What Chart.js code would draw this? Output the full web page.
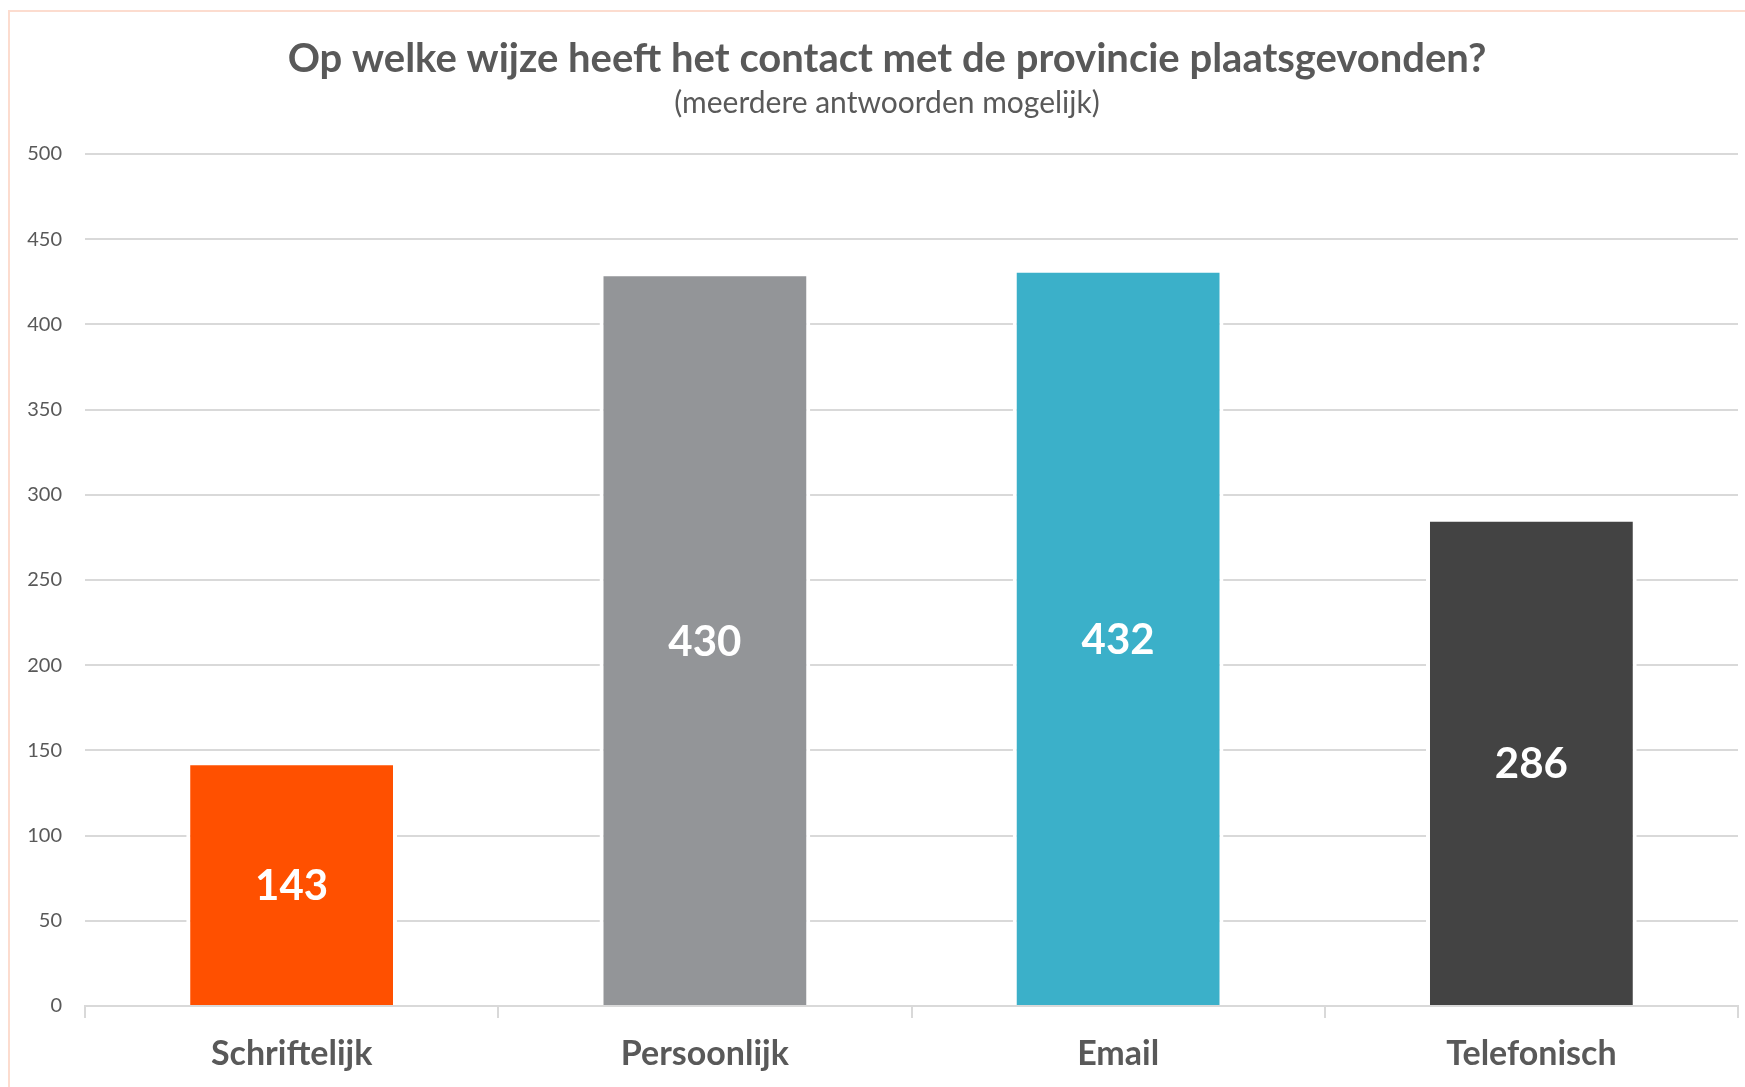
<!DOCTYPE html>
<html>
<head>
<meta charset="utf-8">
<script src="https://cdn.jsdelivr.net/npm/chart.js@4.4.0/dist/chart.umd.min.js"></script>
<style>
    html, body { margin: 0; padding: 0; background: #fff; }
    #wrap { position: relative; width: 1745px; height: 1087px; }
    #frame { position: absolute; left: 8px; top: 10px; right: -4px; bottom: -4px; border: 2px solid #FCDCCF; pointer-events: none; }
    canvas { position: absolute; left: 0; top: 0; }
</style>
</head>
<body>
<div id="wrap">
    <canvas id="chart" width="1745" height="1087"></canvas>
    <div id="frame"></div>
</div>
<script>
var categories = ['Schriftelijk', 'Persoonlijk', 'Email', 'Telefonisch'];
var values = [143, 430, 432, 286];
var barColors = ['#FF5000', '#939598', '#3BB0C9', '#434343'];
var yTicks = [0, 50, 100, 150, 200, 250, 300, 350, 400, 450, 500];

var FONT = 'Lato, "Open Sans", sans-serif';
var TEXT = '#595959';
var GRID = '#D9D9D9';

// draws the value in the middle of each bar
var barLabels = {
    id: 'barLabels',
    afterDatasetsDraw: function(chart) {
        var ctx = chart.ctx;
        var meta = chart.getDatasetMeta(0);
        ctx.save();
        ctx.fillStyle = '#FFFFFF';
        ctx.font = 'bold 42px ' + FONT;
        ctx.textAlign = 'center';
        ctx.textBaseline = 'middle';
        meta.data.forEach(function(bar, i) {
            var p = bar.getProps(['x', 'y', 'base'], true);
            ctx.fillText(String(values[i]), p.x, (p.y + p.base) / 2 + 3);
        });
        ctx.restore();
    }
};

// title + subtitle sit a bit right of the canvas centre in the original
var shiftTitles = {
    id: 'shiftTitles',
    afterLayout: function(chart) {
        chart.boxes.forEach(function(b) {
            if (b.fullSize && b.position === 'top') {
                b.left += 36;
            }
        });
    }
};

Chart.defaults.font.family = FONT;
Chart.defaults.color = TEXT;

new Chart(document.getElementById('chart').getContext('2d'), {
    type: 'bar',
    data: {
        labels: categories,
        datasets: [{
            data: values,
            backgroundColor: barColors,
            borderColor: '#FFFFFF',
            borderWidth: { top: 3, left: 4, right: 4, bottom: 0 },
            borderSkipped: 'start',
            barPercentage: 0.51,
            categoryPercentage: 1
        }]
    },
    options: {
        responsive: false,
        animation: false,
        layout: { padding: { left: 0, right: 7, top: 0, bottom: 0 } },
        plugins: {
            legend: { display: false },
            tooltip: { enabled: false },
            title: {
                display: true,
                text: 'Op welke wijze heeft het contact met de provincie plaatsgevonden?',
                color: TEXT,
                font: { size: 40, weight: 'bold', family: FONT },
                padding: { top: 35, bottom: 0 }
            },
            subtitle: {
                display: true,
                text: '(meerdere antwoorden mogelijk)',
                color: TEXT,
                font: { size: 30, family: FONT },
                padding: { top: 2, bottom: 33 }
            }
        },
        scales: {
            x: {
                grid: { display: true, drawOnChartArea: false, color: GRID, lineWidth: 2, tickLength: 12, offset: true },
                border: { display: true, color: GRID, width: 2 },
                ticks: { color: TEXT, font: { size: 34, weight: 'bold', family: FONT }, padding: 16 },
                afterFit: function(scale) { scale.height = 81; }
            },
            y: {
                min: 0,
                max: 500,
                afterBuildTicks: function(scale) {
                    scale.ticks = yTicks.map(function(v) { return { value: v }; });
                },
                grid: { color: GRID, lineWidth: 2, drawTicks: false },
                border: { display: false },
                ticks: { color: TEXT, font: { size: 20, family: FONT }, padding: 23 },
                afterFit: function(scale) { scale.width = 85; }
            }
        }
    },
    plugins: [barLabels, shiftTitles]
});
</script>
</body>
</html>
